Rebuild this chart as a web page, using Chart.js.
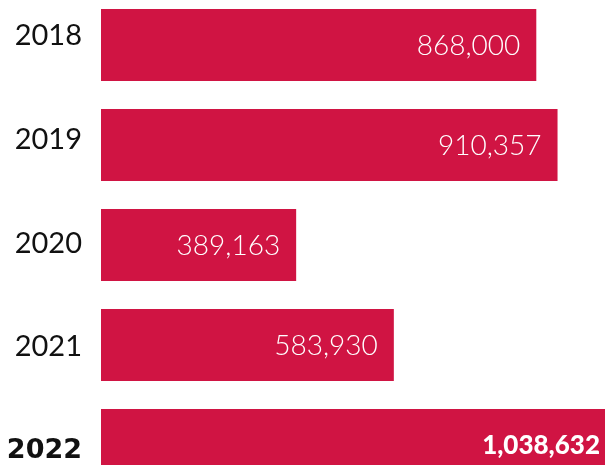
<!DOCTYPE html>
<html>
<head>
<meta charset="utf-8">
<script src="https://cdn.jsdelivr.net/npm/chart.js@4/dist/chart.umd.min.js"></script>
<style>
  html, body { margin: 0; padding: 0; background: #fff; }
  #wrap { position: relative; width: 605px; height: 465px; overflow: hidden; }
  #chart { position: absolute; left: 0; top: -5px; }
</style>
</head>
<body>
<div id="wrap"><canvas id="chart" width="605" height="500"></canvas></div>
<script>
const years = ['2018', '2019', '2020', '2021', '2022'];
const visitors = [868000, 910357, 389163, 583930, 1038632];
const barColor = '#d01443';

// white figures at the end of each bar
const valueLabels = {
    id: 'valueLabels',
    afterDatasetsDraw(chart) {
        const ctx = chart.ctx;
        const meta = chart.getDatasetMeta(0);
        const area = chart.chartArea;
        ctx.save();
        ctx.fillStyle = '#fff';
        ctx.textAlign = 'right';
        ctx.textBaseline = 'middle';
        meta.data.forEach((bar, i) => {
            const last = i === visitors.length - 1;
            ctx.font = last ? '900 26px Lato' : '300 28px Lato';
            const x = Math.min(bar.x - 16, area.right - 5);
            ctx.fillText(visitors[i].toLocaleString('en-US'), x, bar.y + 1);
        });
        ctx.restore();
    }
};

const ctx = document.getElementById('chart').getContext('2d');
new Chart(ctx, {
    type: 'bar',
    data: {
        labels: years,
        datasets: [{
            data: visitors,
            backgroundColor: barColor,
            borderWidth: 0,
            categoryPercentage: 0.72,
            barPercentage: 1
        }]
    },
    options: {
        indexAxis: 'y',
        responsive: false,
        animation: false,
        layout: { padding: 0 },
        plugins: {
            legend: { display: false },
            tooltip: { enabled: false }
        },
        scales: {
            x: {
                display: false,
                min: 0,
                max: 1005000
            },
            y: {
                display: false,
                offset: true
            },
            // year labels sit on their own, slightly wider spacing
            yl: {
                type: 'linear',
                position: 'left',
                reverse: true,
                offset: false,
                bounds: 'data',
                min: -0.39,
                max: 4.424,
                grid: { display: false, drawTicks: false },
                border: { display: false },
                afterBuildTicks(scale) {
                    scale.ticks = years.map((y, i) => ({ value: i }));
                },
                afterFit(scale) {
                    scale.width = 101;
                    scale.paddingTop = 0;
                    scale.paddingBottom = 0;
                },
                ticks: {
                    padding: 19,
                    color: '#111',
                    callback: (v, i) => years[i],
                    font: (c) => c.index === years.length - 1
                        ? { family: 'DejaVu Sans', size: 27, weight: 'bold' }
                        : { family: 'Lato', size: 29, weight: '400' }
                }
            }
        }
    },
    plugins: [valueLabels]
});
</script>
</body>
</html>
